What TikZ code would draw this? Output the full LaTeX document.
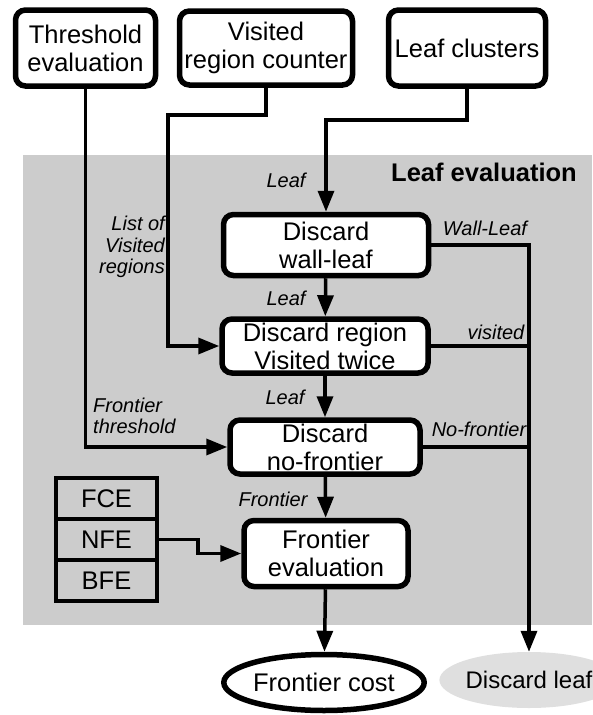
\documentclass[tikz,border=0pt]{standalone}
\usepackage{fontspec}
\setmainfont{Liberation Sans}
\usetikzlibrary{arrows.meta,shapes.geometric}
\definecolor{panel}{HTML}{CCCCCC}
\definecolor{discardgray}{HTML}{DFDFDF}

\begin{document}
\begin{tikzpicture}[x=1pt,y=-1pt,
  box/.style={draw,line width=5.5pt,rounded corners=10pt,fill=white,align=center,inner sep=0pt,font=\fontsize{25.5}{28}\selectfont},
  cell/.style={draw,line width=3.5pt,minimum width=101pt,minimum height=41pt,inner sep=0pt,font=\fontsize{25.5}{28}\selectfont},
  lbl/.style={inner sep=0pt,font=\fontsize{20}{21.5}\selectfont\itshape},
  arr/.style={line width=3.5pt,-{Triangle[length=21pt,width=16pt]}},
  link/.style={line width=3.5pt}]
  \useasboundingbox (0,0) rectangle (592,715);

  % grey panel
  \fill[panel] (23,155) rectangle (592,625);
  \draw (484,172) node[inner sep=0pt,font=\fontsize{25.5}{28}\selectfont\bfseries](title) {Leaf evaluation};

  % sources
  \draw ( 85.5,48) node[box,minimum width=140pt,minimum height=76pt](thresh) {Threshold\\evaluation};
  \draw (266,48) node[box,minimum width=173pt,minimum height=74pt](visit)  {Visited\\region counter};
  \draw (467,48) node[box,minimum width=157pt,minimum height=76pt](leafc)  {Leaf clusters};

  % filters
  \draw (326,245) node[box,minimum width=205pt,minimum height=61pt](wall)    {Discard\\wall-leaf};
  \draw (325,346) node[box,minimum width=206pt,minimum height=54pt](twice)   {Discard region\\Visited twice};
  \draw (325,447) node[box,minimum width=190pt,minimum height=54pt](nofront) {Discard\\no-frontier};
  \draw (326,553.5) node[box,minimum width=164pt,minimum height=66pt](feval) {Frontier\\evaluation};

  % evaluators
  \draw (106.5,498.5) node[cell](fce) {FCE};
  \draw (106.5,539.5) node[cell](nfe) {NFE};
  \draw (106.5,580.5) node[cell](bfe) {BFE};

  % outputs
  \draw (324,682.5) node[draw,ellipse,line width=5.5pt,minimum width=191pt,minimum height=56pt,inner sep=0pt,font=\fontsize{25.5}{28}\selectfont](fcost) {Frontier cost};
  \draw (529,680) node[ellipse,fill=discardgray,minimum width=144pt,minimum height=56pt,inner sep=0pt,font=\fontsize{24}{28}\selectfont](dleaf) {Discard leaf};

  \coordinate (vbend) at (168,115);
  \coordinate (nbend) at (198,539.5);

  \path[draw,arr] (leafc.south) -- ++(0,31) -| (wall.north);
  \path[draw,arr] (visit.south) |- (vbend) |- (twice.west);
  \path[draw,arr] (thresh.south) |- (nofront.west);
  \path[draw,arr] (nfe.east) -- (nbend) |- (feval.west);

  \path[draw,arr] (wall) -- (twice);
  \path[draw,arr] (twice) -- (nofront);
  \path[draw,arr] (nofront) -- (feval);
  \path[draw,arr] (feval) -- (fcost);

  \path[draw,arr] (wall.east) -| (dleaf.north);
  \path[draw,link] (twice.east) -- (twice.east -| dleaf.north);
  \path[draw,link] (nofront.east) -- (nofront.east -| dleaf.north);

  % labels
  \draw (286,180) node[lbl](l1) {Leaf};
  \draw (286,298) node[lbl](l2) {Leaf};
  \draw (285,397) node[lbl](l3) {Leaf};
  \draw (273,499) node[lbl](l4) {Frontier};
  \draw (165,247) node[lbl,anchor=east,align=right](lvis) {List of\\Visited\\regions};
  \draw (93,416) node[lbl,anchor=west,align=left](lthr) {Frontier\\threshold};
  \draw (485,228) node[lbl](lwall) {Wall-Leaf};
  \draw (496,332) node[lbl](lvisd) {visited};
  \draw (479,429) node[lbl](lnof) {No-frontier};

\end{tikzpicture}
\end{document}
